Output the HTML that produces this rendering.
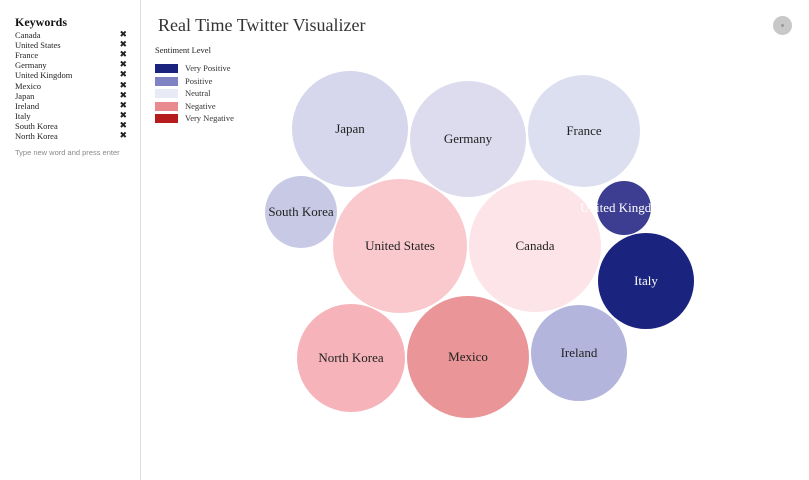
<!DOCTYPE html>
<html><head><meta charset="utf-8"><style>
body{margin:0;width:809px;height:480px;background:#fff;font-family:"Liberation Serif",serif;overflow:hidden;position:relative}
#side{position:absolute;left:0;top:0;width:140px;height:480px;border-right:1px solid #ddd}
#side h3{margin:0;position:absolute;left:15px;top:15px;font-size:12px;font-weight:bold;color:#111}
.kw{position:absolute;left:15px;font-size:8.5px;color:#222;width:112px}
.kw span.x{position:absolute;right:0;font-weight:bold;font-size:9px;font-family:"DejaVu Sans",sans-serif}
#hint{position:absolute;left:15px;top:148px;font-size:7.5px;color:#888;font-family:"Liberation Sans",sans-serif}
#title{position:absolute;left:158px;top:15px;font-size:18px;color:#333}
#sl{position:absolute;left:155px;top:45px;font-size:8.5px;color:#222}
.lg{position:absolute;left:155px;font-size:8.5px;color:#333}
.lg i{position:absolute;left:0;top:0;width:23px;height:9px}
.lg span{position:absolute;left:30px;top:-1px;white-space:nowrap}
#btn{position:absolute;left:773px;top:16px;width:19px;height:19px;border-radius:50%;background:#c8c8c8}
#btn::after{content:"";position:absolute;left:8px;top:8px;width:3px;height:3px;border-radius:50%;background:#999}
svg{position:absolute;left:0;top:0}
</style></head><body>
<div id="side">
<h3>Keywords</h3>
<div id="kwlist"></div>
<div id="hint">Type new word and press enter</div>
</div>
<div id="title">Real Time Twitter Visualizer</div>
<div id="sl">Sentiment Level</div>
<div id="legend"></div>
<div id="btn"></div>
<svg id="chart" width="809" height="480"></svg>
<script>
const keywords=["Canada","United States","France","Germany","United Kingdom","Mexico","Japan","Ireland","Italy","South Korea","North Korea"];
const legendLabels=["Very Positive","Positive","Neutral","Negative","Very Negative"];
const legendColors=["#1a237e","#7f83c4","#e8eaf6","#e88a8e","#b71c1c"];
const names=["Japan","Germany","France","South Korea","United States","Canada","United Kingdom","Italy","North Korea","Mexico","Ireland"];
const counts=[3364,3364,3136,1296,4489,4356,729,2304,2916,3721,2304];
const fills=["#d6d6ec","#dcdcee","#dcdff0","#c8c9e5","#f9c9cd","#fce4e8","#3d3e92","#1a237e","#f6b4ba","#ea9597","#b3b5dc"];
const textColors=["#222","#222","#222","#222","#222","#222","#fff","#fff","#222","#222","#222"];
const layoutX=[350,468,584,301,400,535,624,646,351,468,579];
const layoutY=[129,139,131,212,246,246,208,281,358,357,353];
const rScale=c=>Math.sqrt(c);
const kl=document.getElementById('kwlist');
keywords.forEach((k,i)=>{const d=document.createElement('div');d.className='kw';d.style.top=(30+i*10.1)+'px';


d.innerHTML=k+'<span class="x">✖</span>';kl.appendChild(d);});
const lg=document.getElementById('legend');
legendLabels.forEach((l,i)=>{const d=document.createElement('div');d.className='lg';d.style.top=(64+i*12.5)+'px';


d.innerHTML='<i style="background:'+legendColors[i]+'"></i><span>'+l+'</span>';lg.appendChild(d);});
const svg=document.getElementById('chart'),NS='http://www.w3.org/2000/svg';
names.forEach((n,i)=>{const g=document.createElementNS(NS,'g');


const c=document.createElementNS(NS,'circle');c.setAttribute('cx',layoutX[i]);c.setAttribute('cy',layoutY[i]);c.setAttribute('r',rScale(counts[i]));c.setAttribute('fill',fills[i]);
const t=document.createElementNS(NS,'text');t.setAttribute('x',layoutX[i]);t.setAttribute('y',layoutY[i]+4);t.setAttribute('text-anchor','middle');t.setAttribute('font-size','13');t.setAttribute('fill',textColors[i]);t.setAttribute('font-family','Liberation Serif, serif');t.textContent=n;
g.appendChild(c);g.appendChild(t);svg.appendChild(g);});
</script>
</body></html>
